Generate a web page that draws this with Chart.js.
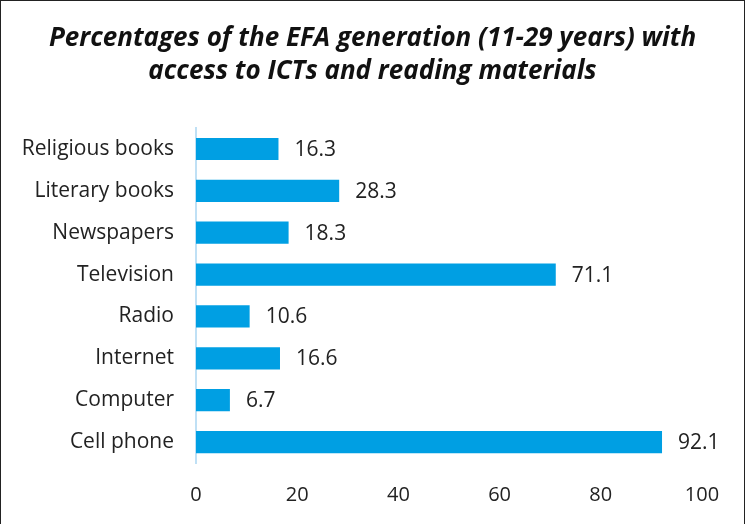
<!DOCTYPE html>
<html lang="en">
<head>
<meta charset="UTF-8" />
<title>Percentages of the EFA generation</title>
<style>
  html, body { margin: 0; padding: 0; background: #fff; }
  #wrap { position: relative; width: 745px; height: 524px; box-sizing: border-box;
          border: 1.5px solid #222; border-bottom: none; }
</style>
</head>
<body>
<div id="wrap"><canvas id="chart"></canvas></div>

<script src="https://cdn.jsdelivr.net/npm/chart.js"></script>
<script>
  const categories = ['Religious books', 'Literary books', 'Newspapers', 'Television',
                      'Radio', 'Internet', 'Computer', 'Cell phone'];
  const percentages = [16.3, 28.3, 18.3, 71.1, 10.6, 16.6, 6.7, 92.1];
  const xTicks = [0, 20, 40, 60, 80, 100];

  const font = "'Open Sans', 'Noto Sans', sans-serif";

  // value labels at the end of each bar
  const valueLabels = {
    id: 'valueLabels',
    afterDatasetsDraw(chart) {
      const ctx = chart.ctx;
      const meta = chart.getDatasetMeta(0);
      ctx.save();
      ctx.font = '21px ' + font;
      ctx.fillStyle = '#222';
      ctx.textAlign = 'left';
      ctx.textBaseline = 'middle';
      meta.data.forEach((bar, i) => {
        ctx.fillText(percentages[i].toFixed(1), bar.x + 16, bar.y + 1);
      });
      ctx.restore();
    }
  };

  new Chart(document.getElementById('chart'), {
    type: 'bar',
    data: {
      labels: categories,
      datasets: [{
        data: percentages,
        backgroundColor: '#009fe3',
        barPercentage: 0.53,
        categoryPercentage: 1
      }]
    },
    options: {
      indexAxis: 'y',
      responsive: true,
      maintainAspectRatio: false,
      animation: false,
      layout: { padding: 0 },
      plugins: {
        legend: { display: false },
        tooltip: { enabled: false },
        title: {
          display: true,
          text: ['Percentages of the EFA generation (11-29 years) with',
                 'access to ICTs and reading materials'],
          color: '#111',
          font: { family: font, size: 26, weight: 'bold', style: 'italic', lineHeight: 1.27 },
          padding: { top: 21, bottom: 40 }
        }
      },
      scales: {
        x: {
          min: 0,
          max: 100,
          grid: { display: false, drawTicks: false },
          border: { display: false },
          afterBuildTicks: scale => { scale.ticks = xTicks.map(v => ({ value: v })); },
          ticks: { color: '#222', padding: 20, font: { family: font, size: 20 } },
          afterFit: scale => { scale.height = 61; }
        },
        y: {
          grid: { display: false, drawTicks: false },
          border: { display: true, color: '#bfe0f5', width: 2 },
          ticks: { color: '#222', padding: 22, font: { family: font, size: 21 } },
          afterFit: scale => { scale.width = 195; }
        },
        // empty right-hand strip so the title stays centred on the whole canvas
        yRight: {
          position: 'right',
          grid: { display: false, drawTicks: false },
          border: { display: false },
          ticks: { display: false },
          afterFit: scale => { scale.width = 42; }
        }
      }
    },
    plugins: [valueLabels]
  });
</script>
</body>
</html>
